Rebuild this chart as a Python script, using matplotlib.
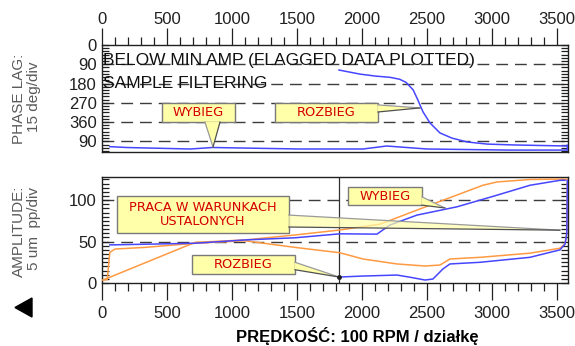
import matplotlib
matplotlib.use('Agg')
import matplotlib.pyplot as plt
from matplotlib.patches import Rectangle, Polygon
from matplotlib.ticker import MultipleLocator, FixedLocator

# ---------------- data ----------------
# phase lag (deg), run-up (ROZBIEG)
phase_up_rpm = [1823, 1985, 2100, 2215, 2290, 2340, 2394, 2430, 2470, 2523, 2600, 2692, 2808, 2962, 3162, 3577]
phase_up_deg = [117, 136, 145, 151, 160, 175, 210, 257, 313, 364, 411, 435, 453, 463, 467, 472]
# phase lag (deg), coast-down (WYBIEG)
phase_down_rpm = [60, 190, 680, 850, 1520, 2008, 2190, 2500, 3130, 3577, 3580, 3580]
phase_down_deg = [475, 479, 486, 479, 486, 486, 472, 486, 491, 491, 491, 468]

# amplitude (um pp), blue curves
amp_blue_down_rpm = [60, 715, 1100, 1485, 1830, 2115, 2215, 2423, 2731, 3038, 3292, 3523, 3562]
amp_blue_down_val = [46, 48, 52, 54.6, 59.4, 59, 70, 82, 92, 106, 118, 124, 124]
amp_blue_up_rpm = [1823, 2008, 2269, 2369, 2485, 2546, 2623, 2677, 2908, 3292, 3523, 3562, 3576, 3580]
amp_blue_up_val = [7.2, 8.4, 9.6, 7, 3.6, 4.8, 17, 23, 25, 31, 40, 47, 60, 124]

# amplitude (um pp), orange curves
amp_or1_rpm = [8, 715, 1100, 1485, 1830, 2138, 2523, 2930, 3038, 3292, 3546, 3577]
amp_or1_val = [3.6, 49, 52, 58, 64, 71, 94, 118, 122, 125, 125.5, 125]
amp_or2_rpm = [8, 40, 60, 100, 330, 715, 1100, 1485, 1830, 2008, 2269, 2485, 2600, 2677, 2908, 3292, 3523, 3562, 3575, 3580]
amp_or2_val = [3.6, 4, 37, 41, 43, 48, 51, 43, 36.5, 29, 23, 20.5, 21.7, 29, 31, 36, 42, 47, 60, 125]

xticks = [0, 500, 1000, 1500, 2000, 2500, 3000, 3500]
phase_ticks = [0, 90, 180, 270, 360, 450]
phase_ticklabels = ['0', '90', '180', '270', '360', '90']
amp_ticks = [0, 50, 100]
marker_rpm = 1823
marker_amp = 7.2

# ---------------- style ----------------
W, H = 575, 346
BLUE = '#4646FF'
ORANGE = '#FF9A42'
DASH = '#3C3C3C'
YEL = '#FFFFAA'
RED = '#D40000'
FONT = 'Liberation Sans'

plt.rcParams['font.family'] = [FONT, 'DejaVu Sans']

fig = plt.figure(figsize=(5.75, 3.46), dpi=100)
fig.patch.set_facecolor('white')

def fx(x):
    return x / W

def fy(y):
    return 1 - y / H

ax1 = fig.add_axes([fx(102), fy(152), (568 - 102) / W, (152 - 45) / H])
ax2 = fig.add_axes([fx(102), fy(283), (568 - 102) / W, (283 - 177) / H])

dash_style = (0, (8.5, 5.0))

for ax in (ax1, ax2):
    ax.set_xlim(0, 3585)
    for s in ax.spines.values():
        s.set_color('#202020')
        s.set_linewidth(1.0)
    ax.xaxis.set_major_locator(FixedLocator(xticks))
    ax.xaxis.set_minor_locator(MultipleLocator(100))
    ax.tick_params(axis='both', which='both', labelsize=12, colors='#202020', width=0.9)

# ---- top panel: phase ----
ax1.set_ylim(500, 0)
ax1.yaxis.set_major_locator(FixedLocator(phase_ticks))
ax1.set_yticklabels(phase_ticklabels)
ax1.yaxis.set_minor_locator(MultipleLocator(15))
ax1.tick_params(axis='x', which='both', bottom=False, top=True, labelbottom=False,
                labeltop=True, direction='out')
ax1.tick_params(axis='x', which='major', length=12.2, pad=0.5)
ax1.tick_params(axis='x', which='minor', length=5.8)
ax1.tick_params(axis='y', which='both', left=True, right=True, direction='in', length=5, pad=3.6)
for lv in phase_ticks[1:]:
    ax1.axhline(lv, color=DASH, lw=1.0, ls=dash_style, zorder=1)

ax1.plot(phase_down_rpm, phase_down_deg, color=BLUE, lw=1.1, zorder=3)
ax1.plot(phase_up_rpm, phase_up_deg, color=BLUE, lw=1.1, zorder=3)

ax1.text(8, 93, 'BELOW MIN AMP (FLAGGED DATA PLOTTED)', fontsize=12.5, va='baseline',
         ha='left', color='#101010', zorder=4)
ax1.text(8, 201, 'SAMPLE FILTERING', fontsize=12.5, va='baseline', ha='left',
         color='#101010', zorder=4)

# ---- bottom panel: amplitude ----
ax2.set_ylim(0, 128)
ax2.yaxis.set_major_locator(FixedLocator(amp_ticks))
ax2.yaxis.set_minor_locator(MultipleLocator(5))
ax2.tick_params(axis='x', which='both', bottom=True, top=False, direction='out')
ax2.tick_params(axis='x', which='major', length=12.2, pad=4)
ax2.tick_params(axis='x', which='minor', length=5.8)
ax2.tick_params(axis='y', which='both', left=True, right=True, direction='in', length=5, pad=3.6)
for lv in amp_ticks[1:]:
    ax2.axhline(lv, color=DASH, lw=1.0, ls=dash_style, zorder=1)
ax2.axvline(marker_rpm, color='#303030', lw=0.9, zorder=2)

ax2.plot(amp_or1_rpm, amp_or1_val, color=ORANGE, lw=1.1, zorder=3)
ax2.plot(amp_or2_rpm, amp_or2_val, color=ORANGE, lw=1.1, zorder=3)
ax2.plot(amp_blue_down_rpm, amp_blue_down_val, color=BLUE, lw=1.1, zorder=3)
ax2.plot(amp_blue_up_rpm, amp_blue_up_val, color=BLUE, lw=1.1, zorder=3)
ax2.plot([marker_rpm], [marker_amp], 'o', color='#202020', ms=2.5, zorder=8)


# ---- callouts ----
def callout(ax, box, wedge, text, fs=9.3, wedge_alpha=1.0):
    x0, x1, y0, y1 = box
    ax.add_patch(Rectangle((x0, min(y0, y1)), x1 - x0, abs(y1 - y0), fc=YEL, ec='#7A7A7A',
                           lw=1.0, zorder=6, clip_on=False))
    ax.add_patch(Polygon(wedge, closed=True, fc=YEL, ec='none', alpha=wedge_alpha,
                         zorder=6.5, clip_on=False))
    (bx1, by1), (tx, ty), (bx2, by2) = wedge
    ax.plot([bx1, tx], [by1, ty], color='#9A9A9A', lw=0.9, zorder=6.6, clip_on=False)
    ax.plot([bx2, tx], [by2, ty], color='#505050', lw=0.9, zorder=6.6, clip_on=False)
    ax.text((x0 + x1) / 2, (y0 + y1) / 2, text, ha='center', va='center', fontsize=fs,
            color=RED, family='DejaVu Sans', linespacing=1.15, zorder=7)


callout(ax1, (462, 1023, 271, 360), [(792, 360), (854, 477), (908, 360)], 'WYBIEG')
callout(ax1, (1331, 2123, 271, 360), [(2123, 280), (2446, 294), (2123, 313)], 'ROZBIEG')
callout(ax2, (115, 1438, 105, 60), [(1438, 82), (3523, 63.8), (1438, 67.6)],
        'PRACA W WARUNKACH\nUSTALONYCH', wedge_alpha=0.7)
callout(ax2, (1892, 2462, 116, 94), [(2462, 104), (2638, 90.6), (2462, 94)], 'WYBIEG')
callout(ax2, (692, 1485, 34, 11), [(1485, 25), (1823, 7.2), (1485, 16)], 'ROZBIEG')

# ---- axis titles ----
GRAY = '#5A5A5A'
fig.text(fx(19), fy(99), 'PHASE LAG:', rotation=90, ha='center', va='center',
         fontsize=11, color=GRAY)
fig.text(fx(34), fy(97), '15 deg/div', rotation=90, ha='center', va='center',
         fontsize=11, color=GRAY)
fig.text(fx(19), fy(231), 'AMPLITUDE:', rotation=90, ha='center', va='center',
         fontsize=11, color=GRAY)
fig.text(fx(34), fy(228), '5 um  pp/div', rotation=90, ha='center', va='center',
         fontsize=11, color=GRAY)
fig.text(fx(357), fy(336), 'PRĘDKOŚĆ: 100 RPM / działkę', ha='center', va='center',
         fontsize=12, fontweight='bold', color='black')

# left triangle marker
fig.patches.append(Polygon([(fx(15), fy(307.5)), (fx(32), fy(298)), (fx(32), fy(317))],
                           closed=True, fc='black', ec='black', transform=fig.transFigure))

fig.savefig('out.png', dpi=100, facecolor='white')
